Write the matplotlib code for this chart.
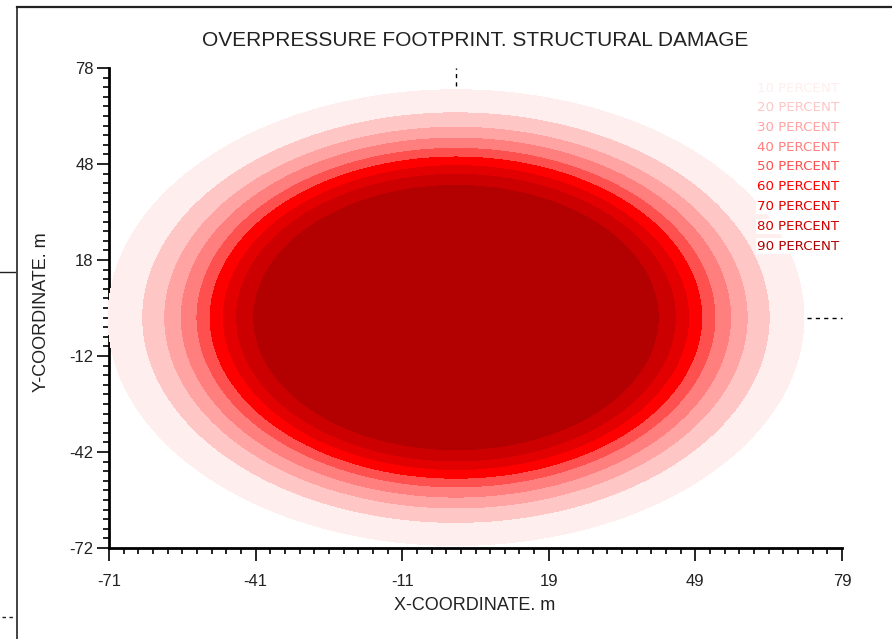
import numpy as np
import matplotlib
matplotlib.use("Agg")
import matplotlib.pyplot as plt
from matplotlib.lines import Line2D

plt.rcParams["axes.unicode_minus"] = False

# ---- data ----
percent_labels = ["10 PERCENT", "20 PERCENT", "30 PERCENT", "40 PERCENT", "50 PERCENT",
                  "60 PERCENT", "70 PERCENT", "80 PERCENT", "90 PERCENT"]
damage_radii = [71.2, 64.3, 59.8, 56.4, 53.2, 50.5, 47.8, 45.1, 41.6]   # m, 10% ... 90%
band_colors = ["#FFEEEE", "#FFC6C6", "#FFA3A3", "#FF7F7F", "#FF5050",
               "#FF0000", "#E20000", "#CC0000", "#B30000"]
center_x, center_y = 0.0, 0.0
x_ticks = [-71, -41, -11, 19, 49, 79]
y_ticks = [-72, -42, -12, 18, 48, 78]
x_lim = (-71, 79)
y_lim = (-72, 78)
title = "OVERPRESSURE FOOTPRINT. STRUCTURAL DAMAGE"
x_label = "X-COORDINATE. m"
y_label = "Y-COORDINATE. m"

W, H = 892, 639
fig = plt.figure(figsize=(W / 100, H / 100), dpi=100)
fig.patch.set_facecolor("white")

def fx(px):
    return px / W

def fy(py):
    return 1 - py / H

ax = fig.add_axes([fx(109), fy(548), (842 - 109) / W, (548 - 68) / H])
ax.set_facecolor("white")

# contour field
gx = np.linspace(-80, 85, 900)
gy = np.linspace(-80, 80, 900)
X, Y = np.meshgrid(gx, gy)
R = np.hypot(X - center_x, Y - center_y)
levels = [0] + damage_radii[::-1]
cs = ax.contourf(X, Y, R, levels=levels, colors=band_colors[::-1], zorder=3)
cs.set_clip_on(False)

ax.set_xlim(*x_lim)
ax.set_ylim(*y_lim)

# ticks
ax.set_xticks(x_ticks)
ax.set_yticks(y_ticks)
ax.set_xticks(np.arange(x_lim[0], x_lim[1] + 0.1, 3), minor=True)
ax.set_yticks(np.arange(y_lim[0], y_lim[1] + 0.1, 3), minor=True)
ax.tick_params(axis="both", which="major", direction="out", length=9, width=1.2,
               labelsize=12, color="black", labelcolor="#222222")
ax.tick_params(axis="both", which="minor", direction="out", length=4.5, width=1.2,
               color="black")
ax.tick_params(axis="x", which="major", pad=10)
ax.tick_params(axis="y", which="major", pad=2)
for lab in ax.get_xticklabels() + ax.get_yticklabels():
    lab.set_fontfamily("Liberation Sans")

for s in ["top", "right"]:
    ax.spines[s].set_visible(False)
for s in ["left", "bottom"]:
    ax.spines[s].set_linewidth(2.0)
    ax.spines[s].set_zorder(2)

# dashed center markers
ax.plot([center_x, center_x], [72.5, y_lim[1]], ls=(0, (3, 3)), color="black", lw=1.0,
        zorder=4, clip_on=False)
ax.plot([71.8, x_lim[1]], [center_y, center_y], ls=(0, (3, 3)), color="black", lw=1.0,
        zorder=4, clip_on=False)

# legend texts
for i, (lab, col) in enumerate(zip(percent_labels, band_colors)):
    fig.text(fx(757), fy(88 + i * 19.75), lab, color=col, fontsize=9.6,
             fontfamily="DejaVu Sans", ha="left", va="center", zorder=10,
             bbox=dict(facecolor="white", edgecolor="none", pad=0.8))

# titles and labels
fig.text(fx(475), fy(41), title, ha="center", va="center", fontsize=15,
         fontfamily="Liberation Sans", color="#222222")
fig.text(fx(475), fy(606), x_label, ha="center", va="center", fontsize=13,
         fontfamily="Liberation Sans", color="#222222")
fig.text(fx(42), fy(312), y_label, ha="center", va="center", fontsize=13,
         rotation=90, fontfamily="Liberation Sans", color="#222222")

# window frame fragments
fig.add_artist(Line2D([fx(17), fx(892)], [fy(7), fy(7)], color="#222222", lw=1.6))
fig.add_artist(Line2D([fx(17), fx(17)], [fy(7), fy(639)], color="#222222", lw=1.2))
fig.add_artist(Line2D([fx(0), fx(15)], [fy(272), fy(272)], color="#222222", lw=1.0))
fig.add_artist(Line2D([fx(2), fx(15)], [fy(617), fy(617)], color="#222222", lw=1.0,
                      ls=(0, (2.5, 2.5))))

fig.savefig("out.png", dpi=100, facecolor="white")
